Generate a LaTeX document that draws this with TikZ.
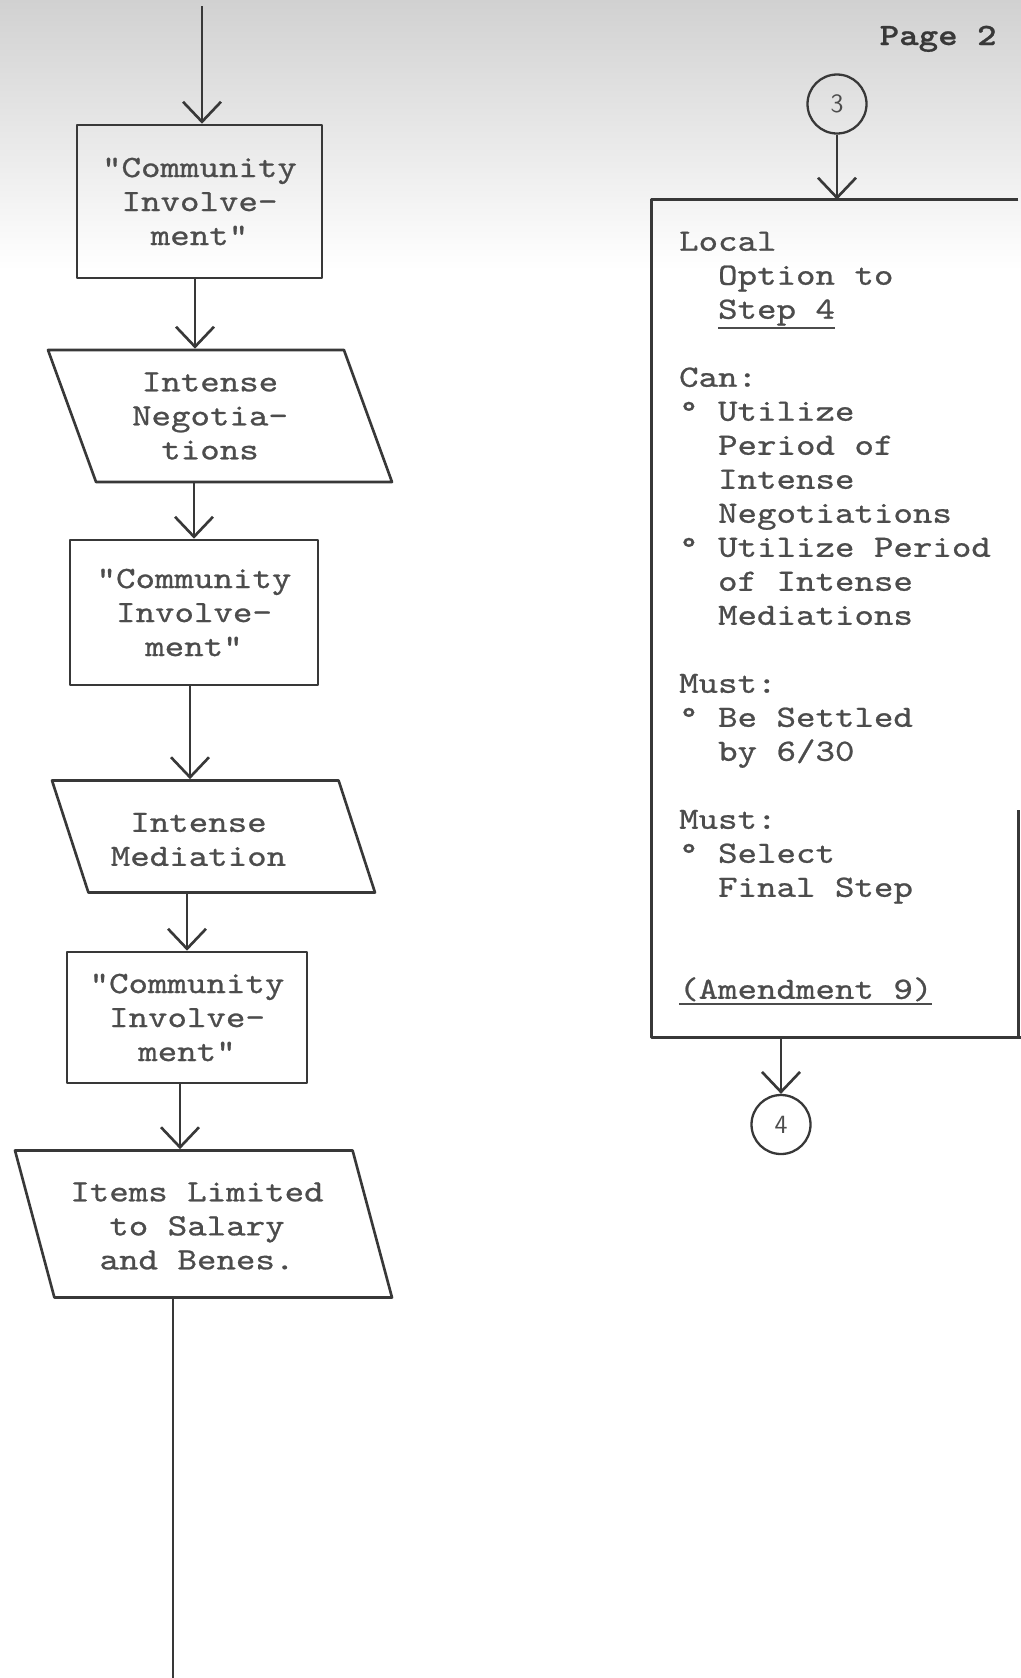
\documentclass[tikz,border=0pt]{standalone}
\usepackage{fontspec}
\newfontfamily\typer{lmmono10-regular.otf}[FakeStretch=1.2, FakeBold=0.8, BoldFont=lmmonolt10-bold.otf]
\usetikzlibrary{arrows.meta, positioning, shapes.geometric}

\definecolor{ink}{gray}{0.22}
\definecolor{typeink}{gray}{0.3}

\newcommand\undl[1]{\vtop{\hbox{#1}\kern1pt\hrule height 1.2pt}}
\newcommand\ind{\phantom{xx}}
\newcommand\typefont{\typer\fontsize{17.6pt}{19.35pt}\selectfont}

\tikzset{
  line/.style={draw=ink, line width=1.5pt},
  flow/.style={line, -{Straight Barb[length=4mm, width=7.6mm, line width=1.5pt]}},
  stepbox/.style={line, rectangle, inner sep=0pt, align=center, text=typeink, font=\typefont},
  iobox/.style={line, shape=trapezium, trapezium left angle=110, trapezium right angle=70,
    trapezium stretches body, inner sep=0pt},
  iotext/.style={align=center, text=typeink, font=\typefont},
  link/.style={circle, draw=ink, line width=1.3pt, minimum size=1.18cm, inner sep=0pt,
    text=typeink, font=\sffamily\fontsize{15pt}{15pt}\selectfont}
}

\begin{document}
\begin{tikzpicture}[line join=round]
    % page
    \useasboundingbox (0,0) rectangle (20.42,-33.56);
    \fill[white] (0,0) rectangle (20.42,-33.56);
    \shade[top color=black!18, bottom color=white] (0,0) rectangle (20.42,-5.4);
    \node[anchor=base west, text=ink, font=\typefont\bfseries] (page) at (17.47,-0.90) {Page 2};
    % left column
    \coordinate (topin) at (4.04,-0.12);
    \node[stepbox, minimum width=4.90cm, minimum height=3.06cm] (ci1) at (3.99,-4.03) {"Community\\Involve-\\ment"};
    \node[iobox, minimum width=6.88cm,
      label={[iotext, xshift=-0.2cm]center:Intense\\Negotia-\\tions}] (neg) at (4.40,-8.32) {\rule{0pt}{2.64cm}};
    \node[stepbox, minimum width=4.96cm, minimum height=2.90cm] (ci2) at (3.88,-12.25) {"Community\\Involve-\\ment"};
    \node[iobox, trapezium left angle=108, trapezium right angle=72, minimum width=6.46cm,
      label={[iotext, xshift=-0.3cm, yshift=-0.06cm]center:Intense\\Mediation}] (med) at (4.27,-16.73) {\rule{0pt}{2.24cm}};
    \node[stepbox, minimum width=4.80cm, minimum height=2.62cm] (ci3) at (3.74,-20.35) {"Community\\Involve-\\ment"};
    \node[iobox, trapezium left angle=105, trapezium right angle=75, minimum width=7.54cm,
      label={[iotext, xshift=-0.13cm, yshift=-0.04cm]center:Items Limited\\to Salary\\and Benes.}] (items) at (4.07,-24.48) {\rule{0pt}{2.94cm}};
    \coordinate (down) at (3.46,-33.56);
    \draw[flow] (topin) -- (topin |- ci1.north);
    \draw[flow] ([xshift=-0.09cm]ci1.south) -- ([xshift=-0.09cm]ci1.south |- neg.north);
    \draw[flow] (ci2.north |- neg.south) -- (ci2.north);
    \draw[flow] ([xshift=-0.08cm]ci2.south) -- ([xshift=-0.08cm]ci2.south |- med.north);
    \draw[flow] (ci3.north |- med.south) -- (ci3.north);
    \draw[flow] ([xshift=-0.14cm]ci3.south) -- ([xshift=-0.14cm]ci3.south |- items.north);
    \draw[line] (down |- items.south) -- (down);
    % right column
    \node[link] (c3) at (16.74,-2.08) {3};
    \node[minimum width=7.32cm, minimum height=16.74cm, inner sep=0pt, align=left,
      text=typeink, font=\typefont] (opt) at (16.70,-12.37)
      {Local\\
       \ind Option to\\
       \ind\undl{Step 4}\\[0.68cm]
       Can:\\
       °~Utilize\\
       \ind Period of\\
       \ind Intense\\
       \ind Negotiations\\
       °~Utilize Period\\
       \ind of Intense\\
       \ind Mediations\\[0.68cm]
       Must:\\
       °~Be Settled\\
       \ind by 6/30\\[0.68cm]
       Must:\\
       °~Select\\
       \ind Final Step\\[1.36cm]
       \undl{(Amendment 9)}};
    \draw[line] (opt.north east) -- (opt.north west) -- (opt.south west) -- (opt.south east) -- ++(0.06,0);
    \draw[line] (opt.south east) -- ([yshift=4.54cm]opt.south east);
    \node[link] (c4) at (15.62,-22.49) {4};
    \draw[flow] (c3.south) -- (c3.south |- opt.north);
    \draw[flow] (c4.north |- opt.south) -- (c4.north);
\end{tikzpicture}
\end{document}
